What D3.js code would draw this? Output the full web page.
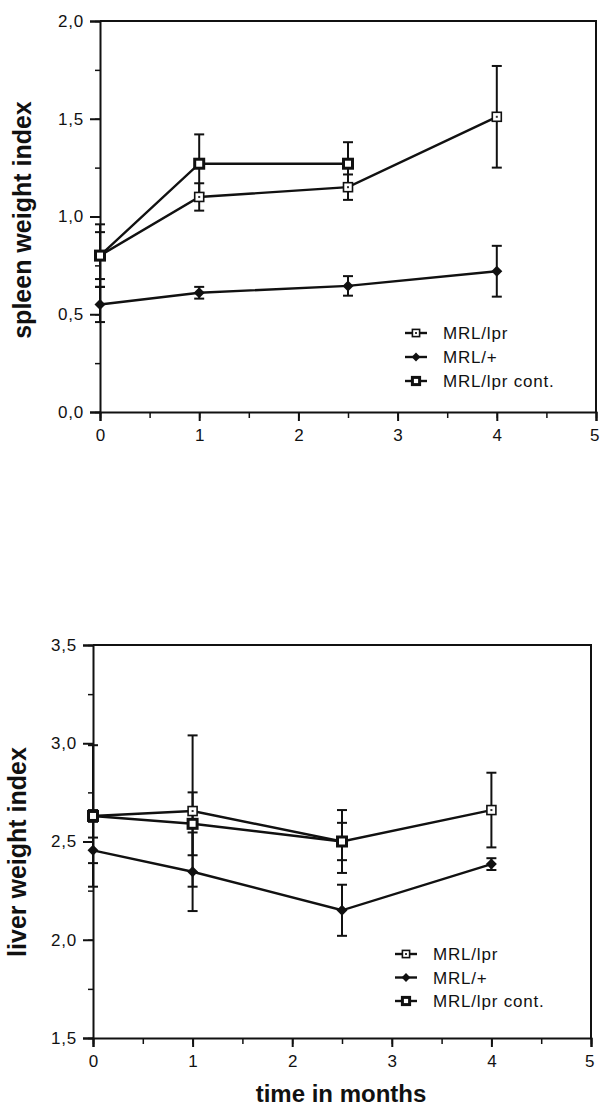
<!DOCTYPE html>
<html>
<head>
<meta charset="utf-8">
<script src="https://cdn.jsdelivr.net/npm/d3@7"></script>
<style>
  html, body { margin: 0; padding: 0; background: #fff; }
  svg { display: block; }
  text { font-family: "Liberation Sans", Arial, Helvetica, sans-serif; fill: #111; }
</style>
</head>
<body>
<svg id="fig" width="600" height="1108"></svg>
<script>
// Sampling times (months)
const timesAll = [0, 1, 2.5, 4];
const timesCont = [0, 1, 2.5];

// Spleen weight index (mean, SD)
const spleenLpr = [0.80, 1.10, 1.15, 1.51];
const spleenLprErr = [0.16, 0.07, 0.065, 0.26];
const spleenPlus = [0.55, 0.61, 0.645, 0.72];
const spleenPlusErr = [0.09, 0.03, 0.05, 0.13];
const spleenCont = [0.80, 1.27, 1.27];
const spleenContErr = [0.12, 0.15, 0.11];

// Liver weight index (mean, SD)
const liverLpr = [2.63, 2.655, 2.50, 2.66];
const liverLprErr = [0.36, 0.385, 0.16, 0.19];
const liverPlus = [2.455, 2.346, 2.15, 2.385];
const liverPlusErr = [0.065, 0.20, 0.13, 0.03];
const liverCont = [2.63, 2.59, 2.50];
const liverContErr = [0.03, 0.16, 0.095];

// Axis ticks
const xTicks = [0, 1, 2, 3, 4, 5];
const spleenTicks = [0, 0.5, 1, 1.5, 2];
const liverTicks = [1.5, 2, 2.5, 3, 3.5];

const legendLabels = ["MRL/lpr", "MRL/+", "MRL/lpr cont."];

const comma = d3.formatLocale({decimal: ",", thousands: ".", grouping: [3], currency: ["", ""]}).format(".1f");
const svg = d3.select("#fig");

function drawPanel(p) {
  const g = svg.append("g");
  const x = d3.scaleLinear().domain([0, 5]).range([p.x0, p.x1]);
  const y = d3.scaleLinear().domain(p.yDomain).range([p.yBottom, p.yTop]);

  // Frame (top and right edges)
  g.append("path")
    .attr("d", `M${x(0)},${y(p.yDomain[1])}H${x(5)}V${y(p.yDomain[0])}`)
    .attr("fill", "none").attr("stroke", "#111").attr("stroke-width", 2);

  // Minor ticks
  const minorY = d3.range(p.yDomain[0], p.yDomain[1] + 1e-9, 0.25);
  g.append("g").attr("transform", `translate(${x(0)},0)`)
    .call(d3.axisLeft(y).tickValues(minorY).tickSize(5).tickFormat(""))
    .call(a => a.select(".domain").remove())
    .selectAll("line").attr("stroke", "#111").attr("stroke-width", 1.5);
  const minorX = d3.range(0, 5.01, 0.5);
  g.append("g").attr("transform", `translate(0,${y(p.yDomain[0])})`)
    .call(d3.axisBottom(x).tickValues(minorX).tickSize(6).tickFormat(""))
    .call(a => a.select(".domain").remove())
    .selectAll("line").attr("stroke", "#111").attr("stroke-width", 1.5);

  // Major axes
  const ya = g.append("g").attr("transform", `translate(${x(0)},0)`)
    .call(d3.axisLeft(y).tickValues(p.yTicks).tickSize(10).tickPadding(6).tickFormat(comma));
  const xa = g.append("g").attr("transform", `translate(0,${y(p.yDomain[0])})`)
    .call(d3.axisBottom(x).tickValues(xTicks).tickSize(9).tickPadding(8).tickFormat(d3.format("d")));
  [ya, xa].forEach(a => {
    a.select(".domain").attr("stroke", "#111").attr("stroke-width", 2);
    a.selectAll("line").attr("stroke", "#111").attr("stroke-width", 2);
    a.selectAll("text").attr("font-size", 17).attr("fill", "#111")
      .attr("font-family", "'Liberation Sans', Arial, sans-serif");
  });
  ya.selectAll("text").attr("letter-spacing", "0.8px");
  // keep the last x label inside the page edge
  xa.selectAll("text")
    .attr("text-anchor", d => d === 5 ? "end" : "middle")
    .attr("dx", d => d === 5 ? 3 : 0);

  // Series
  const series = [
    {t: timesAll, v: p.lpr, e: p.lprErr, sym: "lpr"},
    {t: timesCont, v: p.cont, e: p.contErr, sym: "cont"},
    {t: timesAll, v: p.plus, e: p.plusErr, sym: "plus"}
  ];
  const line = d3.line().x(d => x(d[0])).y(d => y(d[1]));
  series.forEach(s => {
    const pts = s.t.map((t, i) => [t, s.v[i], s.e[i]]);
    g.append("path").datum(pts).attr("d", line)
      .attr("fill", "none").attr("stroke", "#111").attr("stroke-width", 2.4);
    // error bars
    const eb = g.append("g").attr("stroke", "#111").attr("stroke-width", 2);
    pts.forEach(d => {
      const cx = x(d[0]), yt = y(d[1] + d[2]), yb = y(d[1] - d[2]);
      eb.append("line").attr("x1", cx).attr("x2", cx).attr("y1", yt).attr("y2", yb);
      eb.append("line").attr("x1", cx - 5).attr("x2", cx + 5).attr("y1", yt).attr("y2", yt);
      eb.append("line").attr("x1", cx - 5).attr("x2", cx + 5).attr("y1", yb).attr("y2", yb);
    });
  });
  series.forEach(s => {
    s.t.forEach((t, i) => marker(g, s.sym, x(t), y(s.v[i])));
  });

  // Legend
  const lg = g.append("g");
  ["lpr", "plus", "cont"].forEach((sym, i) => {
    const ly = p.legY + i * p.legStep;
    lg.append("line").attr("x1", p.legX - 11).attr("x2", p.legX + 11)
      .attr("y1", ly).attr("y2", ly).attr("stroke", "#111").attr("stroke-width", 2.4);
    marker(lg, sym, p.legX, ly, 0.8);
    lg.append("text").attr("x", p.legX + 27).attr("y", ly).attr("dy", "0.36em")
      .attr("font-size", 17).attr("letter-spacing", "0.8px").text(legendLabels[i]);
  });

  // Y title
  g.append("text")
    .attr("transform", `translate(${p.titleX},${p.titleY}) rotate(-90)`)
    .attr("text-anchor", "middle").attr("font-weight", "bold").attr("font-size", 25)
    .text(p.title);
}

function marker(g, sym, cx, cy, k = 1) {
  if (sym === "plus") {
    const r = 5.5 * k;
    g.append("path").attr("d", `M${cx},${cy - r}L${cx + r},${cy}L${cx},${cy + r}L${cx - r},${cy}Z`)
      .attr("fill", "#111");
  } else if (sym === "lpr") {
    const s = 9 * k;
    g.append("rect").attr("x", cx - s / 2).attr("y", cy - s / 2).attr("width", s).attr("height", s)
      .attr("fill", "#fff").attr("stroke", "#111").attr("stroke-width", 1.6);
    g.append("rect").attr("x", cx - 1).attr("y", cy - 1).attr("width", 2).attr("height", 2).attr("fill", "#333");
  } else {
    const s = 9 * k;
    g.append("rect").attr("x", cx - s / 2).attr("y", cy - s / 2).attr("width", s).attr("height", s)
      .attr("fill", "#fff").attr("stroke", "#111").attr("stroke-width", 3);
  }
}

drawPanel({
  x0: 100, x1: 596, yTop: 21, yBottom: 412, yDomain: [0, 2], yTicks: spleenTicks,
  lpr: spleenLpr, lprErr: spleenLprErr, plus: spleenPlus, plusErr: spleenPlusErr,
  cont: spleenCont, contErr: spleenContErr,
  legX: 416, legY: 333, legStep: 24,
  title: "spleen weight index", titleX: 31, titleY: 220
});

drawPanel({
  x0: 93, x1: 591, yTop: 645, yBottom: 1038, yDomain: [1.5, 3.5], yTicks: liverTicks,
  lpr: liverLpr, lprErr: liverLprErr, plus: liverPlus, plusErr: liverPlusErr,
  cont: liverCont, contErr: liverContErr,
  legX: 406, legY: 954, legStep: 23.5,
  title: "liver weight index", titleX: 26, titleY: 852
});

// Shared x-axis title
svg.append("text").attr("x", 341).attr("y", 1102).attr("text-anchor", "middle")
  .attr("font-weight", "bold").attr("font-size", 24).text("time in months");
</script>
</body>
</html>
